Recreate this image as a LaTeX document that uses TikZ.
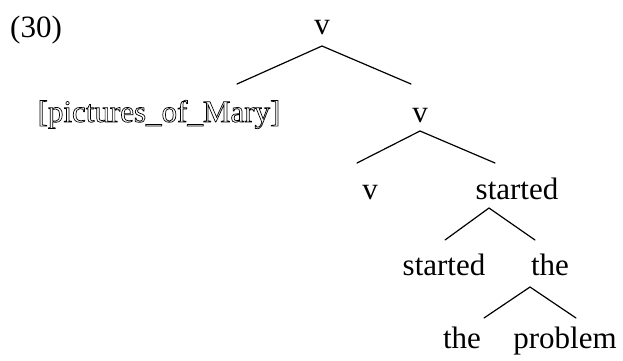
\documentclass[tikz,border=0pt]{standalone}
\usepackage{fontspec}
\setmainfont{Liberation Serif}
\usetikzlibrary{positioning}

\newcommand{\hollow}[1]{\special{pdf:literal direct 1 Tr 0.7 w}#1\special{pdf:literal direct 0 Tr}}

\begin{document}
\begin{tikzpicture}[
  x=1pt, y=-1pt,
  word/.style={font=\fontsize{31}{36}\selectfont, inner sep=0pt, anchor=base},
  branch/.style={line width=1.2pt, line cap=round}
]
\useasboundingbox (0,0) rectangle (623,360);

\node[word] (num) at (36,37) {(30)};

\node[word] (root) at (322,34) {v};
\node[word] (pom) at (159,122) {\hollow{[pictures\_of\_Mary]}};
\node[word] (vbar) at (420,122) {v};
\node[word] (vhead) at (370,199) {v};
\node[word] (stbar) at (517,199) {started};
\node[word] (sthead) at (444,275) {started};
\node[word] (thebar) at (550,275) {the};
\node[word] (thehead) at (462,348) {the};
\node[word] (prob) at (565,348) {problem};

\coordinate (rootL) at (237,84);
\coordinate (rootR) at (411,84);
\coordinate (vbarL) at (357,163);
\coordinate (vbarR) at (495,163);
\coordinate (stbarL) at (445,240);
\coordinate (stbarR) at (535,240);
\coordinate (thebarL) at (484,318);
\coordinate (thebarR) at (576,318);

\draw[branch] (rootL) -- ([yshift=-12pt]root.base) -- (rootR);
\draw[branch] (vbarL) -- ([yshift=-9pt]vbar.base) -- (vbarR);
\draw[branch] (stbarL) -- ([xshift=-28pt,yshift=-9pt]stbar.base) -- (stbarR);
\draw[branch] (thebarL) -- ([xshift=-20pt,yshift=-12pt]thebar.base) -- (thebarR);

\end{tikzpicture}
\end{document}
